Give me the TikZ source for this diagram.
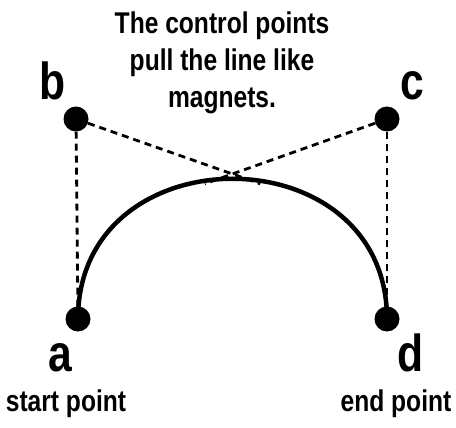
\documentclass[tikz,border=0pt]{standalone}
\usepackage{fontspec}
\setmainfont{Liberation Sans}[FakeStretch=0.82]
\usetikzlibrary{positioning}

\begin{document}
\begin{tikzpicture}[x=1pt, y=-1pt,
    dot/.style={circle, fill=black, inner sep=0pt, minimum size=25pt},
    guide/.style={dash pattern=on 7pt off 5pt, line width=2.8pt},
    letter/.style={font=\fontsize{52}{52}\selectfont\bfseries, inner sep=0pt, anchor=base},
    caption/.style={font=\fontsize{30}{37}\selectfont\bfseries, inner sep=0pt, anchor=base}]
        \useasboundingbox (0, 0) rectangle (456, 428);
        % Note
        \node[caption, anchor=center, align=center] (note) at (222, 63) {The control points\\pull the line like\\magnets.};
        % Points
        \node[dot] (a) at (78, 319) {};
        \node[dot] (b) at (76, 119) {};
        \node[dot] (c) at (387, 119) {};
        \node[dot] (d) at (387, 319) {};
        % Curve
        \draw[line width=4.5pt] (a.center) .. controls (78, 132) and (387, 132) .. (d.center)
            coordinate[pos=0.44] (cEnd) coordinate[pos=0.56] (bEnd);
        % Guides
        \draw[guide] (b) -- (a);
        \draw[guide] (c) -- (d);
        \draw[guide] (b) -- ([yshift=-3pt]bEnd);
        \draw[guide] (c) -- ([yshift=-3pt]cEnd);
        % Letters
        \node[letter] (la) at (60, 371) {a};
        \node[letter] (lb) at (53, 100) {b};
        \node[letter] (lc) at (412, 100) {c};
        \node[letter] (ld) at (411, 371) {d};
        % Captions
        \node[caption] (start) at (66, 411) {start point};
        \node[caption] (end) at (396, 411) {end point};
\end{tikzpicture}
\end{document}
